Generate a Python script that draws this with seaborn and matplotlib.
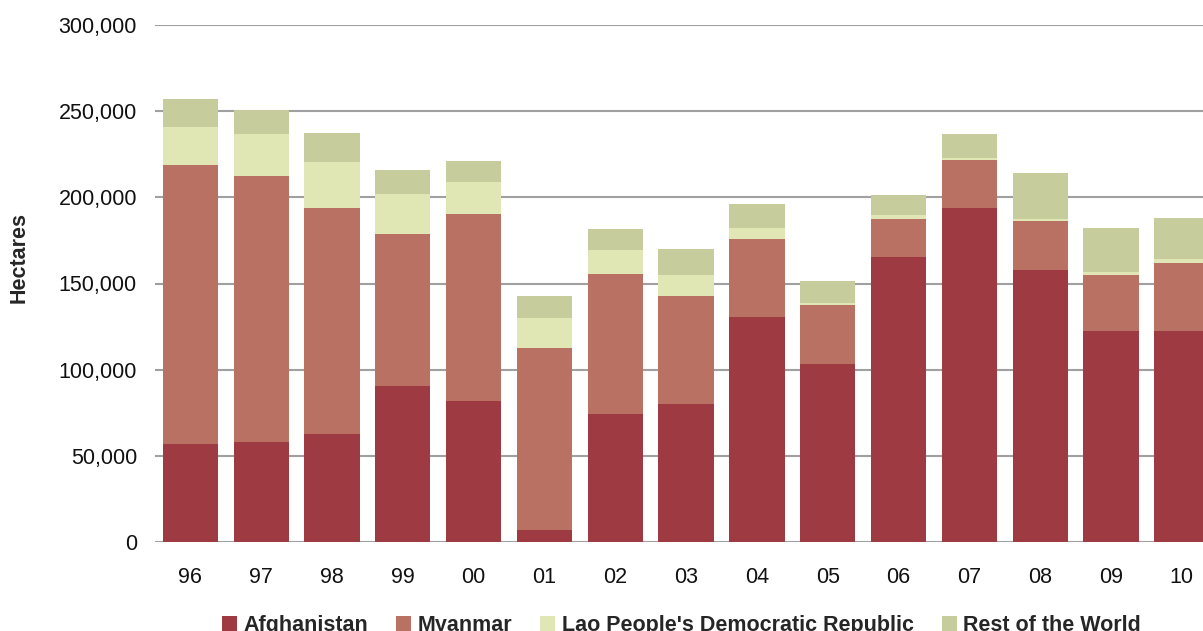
import numpy as np
import seaborn as sns
import matplotlib.pyplot as plt
from matplotlib.patches import Patch
from matplotlib.ticker import FuncFormatter


YEARS = ["96", "97", "98", "99", "00", "01", "02", "03", "04", "05", "06", "07", "08", "09", "10"]
AFGHANISTAN = [56.7, 58.0, 62.6, 90.4, 81.8, 6.8, 74.1, 79.9, 130.8, 103.3, 165.3, 194.0, 157.7, 122.6, 122.6]
MYANMAR = [162.0, 154.5, 131.5, 88.5, 108.6, 106.0, 81.3, 62.6, 45.0, 34.5, 22.2, 27.4, 28.7, 32.2, 39.2]
LAO = [22.0, 24.3, 26.2, 23.2, 18.6, 16.9, 14.0, 12.3, 6.5, 0.8, 2.4, 1.2, 1.1, 1.7, 2.3]
REST = [16.3, 14.0, 16.9, 14.0, 12.2, 12.8, 12.3, 15.2, 14.0, 12.7, 11.7, 14.0, 26.9, 25.8, 24.0]

SERIES = ["Afghanistan", "Myanmar", "Lao People's Democratic Republic", "Rest of the World"]
COLORS = ["#9e3a42", "#b87162", "#e0e6b4", "#c7cc9d"]


def main():
    sns.set_style("white")
    plt.rcParams["font.family"] = ["Liberation Sans", "DejaVu Sans"]

    fig = plt.figure(figsize=(12.03, 6.31), dpi=100)
    ax = fig.add_axes([155 / 1203, 89 / 631, 1 - 155 / 1203, 517 / 631])

    # stacked bars: draw cumulative totals from the top layer down
    layers = np.array([AFGHANISTAN, MYANMAR, LAO, REST]) * 1000
    cumulative = np.cumsum(layers, axis=0)
    for i in reversed(range(len(SERIES))):
        sns.barplot(x=YEARS, y=cumulative[i], color=COLORS[i], width=0.78,
                    saturation=1, errorbar=None, ax=ax, zorder=2,
                    edgecolor="none", linewidth=0)

    ax.set_ylim(0, 300000)
    ax.set_xlim(-0.5, 14.3)
    ax.set_yticks(np.arange(0, 300001, 50000))
    ax.yaxis.set_major_formatter(FuncFormatter(lambda v, p: f"{v:,.0f}"))
    ax.yaxis.grid(True, color="#a0a0a0", linewidth=1.5, zorder=0)
    ax.set_axisbelow(True)
    for side in ["top", "right", "left", "bottom"]:
        ax.spines[side].set_visible(False)
    ax.tick_params(axis="y", length=0, pad=13, labelsize=15.5, labelcolor="#111111")
    ax.tick_params(axis="x", length=0, pad=18, labelsize=15.5, labelcolor="#111111")

    ax.set_xlabel("")
    ax.set_ylabel("Hectares", fontsize=15.5, fontweight="bold")
    ax.yaxis.set_label_coords(-0.12, 0.55)

    handles = [Patch(facecolor=c, edgecolor="none") for c in COLORS]
    fig.legend(handles, SERIES, loc="center", bbox_to_anchor=(0.5665, 0.008), ncol=4,
               frameon=False, prop={"size": 15.5, "weight": "bold"},
               handlelength=0.7, handleheight=0.7, handletextpad=0.3,
               columnspacing=1.3, borderpad=0)

    fig.savefig("out.png", dpi=100)


if __name__ == "__main__":
    main()
